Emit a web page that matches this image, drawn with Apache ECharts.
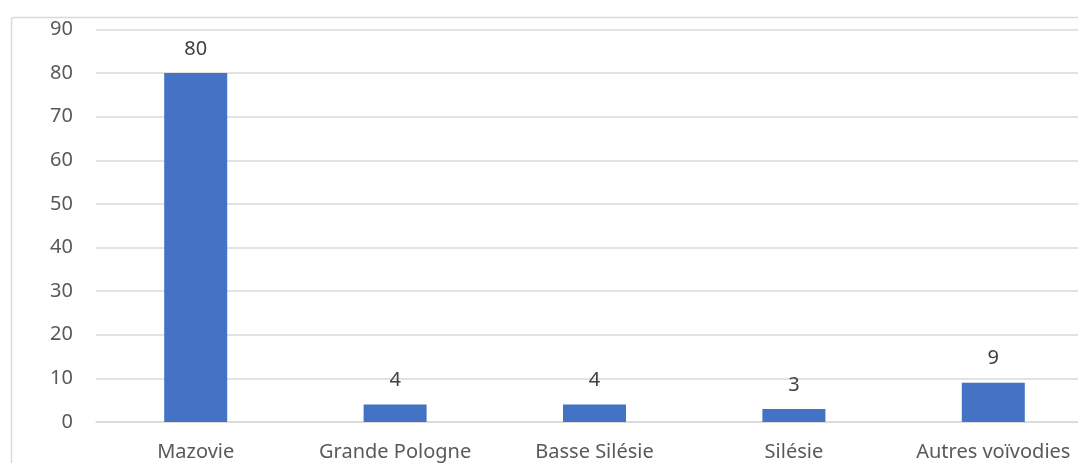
<!DOCTYPE html>
<html><head><meta charset="utf-8">
<script src="https://cdn.jsdelivr.net/npm/echarts@6/dist/echarts.min.js"></script>
<style>html,body{margin:0;padding:0;background:#fff;}#c{width:1078px;height:463px;}</style>
</head><body><div id="c"></div>
<script>
const categories = ['Mazovie', 'Grande Pologne', 'Basse Silésie', 'Silésie', 'Autres voïvodies'];
const values = [80, 4, 4, 3, 9];
const yTicks = { min: 0, max: 90, interval: 10 };

const chart = echarts.init(document.getElementById('c'));
const font = 'Noto Sans';
chart.setOption({
  animation: false,
  graphic: [{
    type: 'rect', left: 9, top: 15, shape: { width: 1200, height: 600, r: 2 },
    style: { fill: 'none', stroke: '#d9d9d9', lineWidth: 1.5 }, z: -1
  }],
  grid: { left: 96, top: 29.5, width: 997, height: 392.5, outerBoundsMode: 'none', containLabel: false },
  xAxis: {
    type: 'category', data: categories,
    axisLine: { show: true, lineStyle: { color: '#d9d9d9', width: 1.5 } },
    axisTick: { show: false },
    axisLabel: { color: '#595959', fontFamily: font, fontSize: 20, margin: 20, interval: 0, hideOverlap: false }
  },
  yAxis: {
    type: 'value', min: yTicks.min, max: yTicks.max, interval: yTicks.interval,
    axisLine: { show: false }, axisTick: { show: false },
    splitLine: { lineStyle: { color: '#d9d9d9', width: 1.5 } },
    axisLabel: { color: '#595959', fontFamily: font, fontSize: 20, margin: 23 }
  },
  series: [{
    type: 'bar', data: values, barWidth: 63,
    itemStyle: { color: '#4472C4' },
    label: { show: true, position: 'top', distance: 14, color: '#404040', fontFamily: font, fontSize: 20 }
  }]
});
</script></body></html>
